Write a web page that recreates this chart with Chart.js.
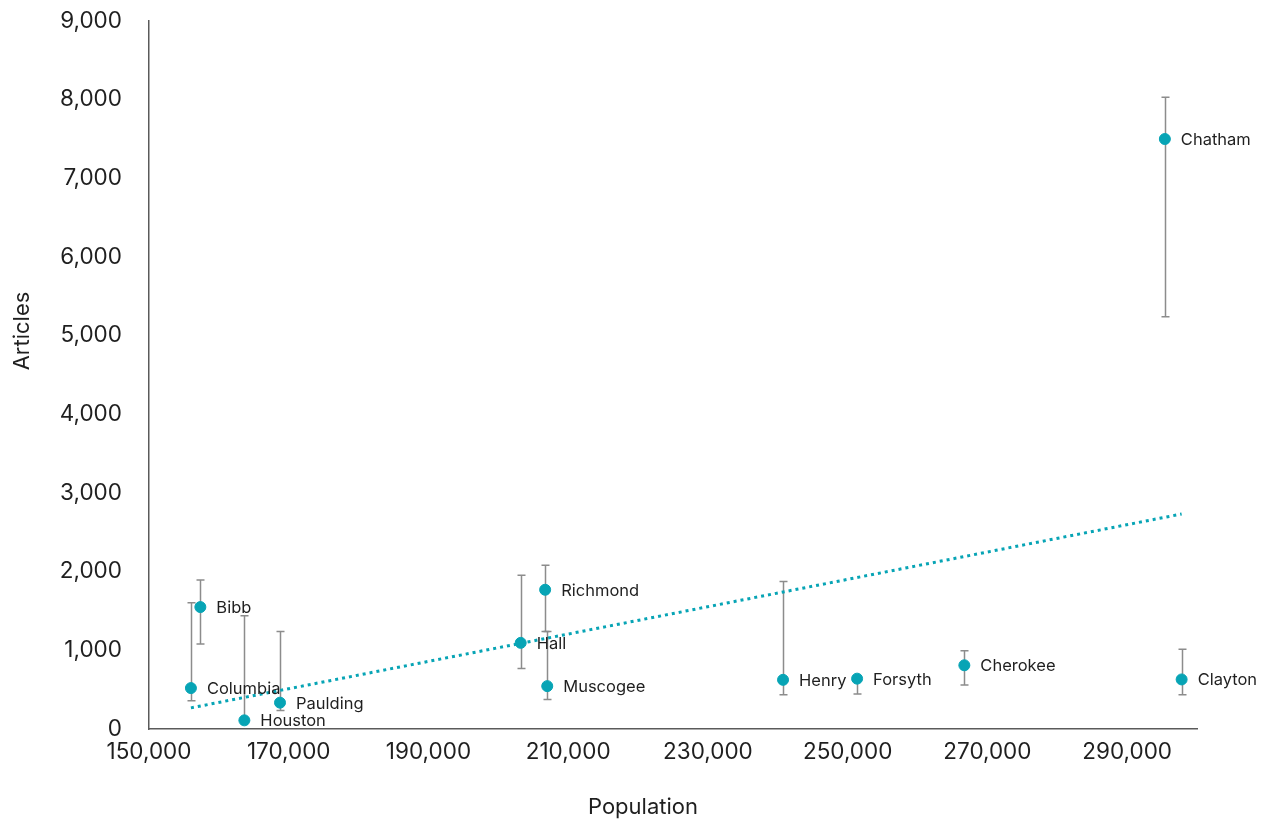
<!DOCTYPE html>
<html>
<head>
<meta charset="utf-8">
<script src="https://cdn.jsdelivr.net/npm/chart.js@4/dist/chart.umd.min.js"></script>
<style>
  html, body { margin: 0; padding: 0; background: #ffffff; }
  #wrap { width: 1264px; height: 820px; position: relative; }
</style>
</head>
<body>
<div id="wrap"><canvas id="c"></canvas></div>
<script>
// Georgia counties: population vs. number of articles, with error ranges
const counties   = ['Columbia', 'Bibb', 'Houston', 'Paulding', 'Hall', 'Richmond', 'Muscogee', 'Henry', 'Forsyth', 'Cherokee', 'Chatham', 'Clayton'];
const population = [156000, 157350, 163650, 168750, 203200, 206700, 207000, 240750, 251350, 266700, 295400, 297800];
const articles   = [520, 1550, 110, 335, 1095, 1770, 545, 625, 640, 810, 7500, 630];
const articlesHigh = [1605, 1895, 1440, 1240, 1955, 2080, 1240, 1875, 650, 995, 8030, 1015];
const articlesLow  = [360, 1080, 100, 235, 770, 1240, 375, 435, 445, 560, 5240, 435];

const xTicks = [150000, 170000, 190000, 210000, 230000, 250000, 270000, 290000];
const yTicks = [0, 1000, 2000, 3000, 4000, 5000, 6000, 7000, 8000, 9000];

const TEAL = '#07A4B5';
const FONT = 'Inter, "Open Sans", sans-serif';

// least-squares linear trend through the points
function linearFit(xs, ys) {
  const n = xs.length;
  const mx = xs.reduce((a, b) => a + b, 0) / n;
  const my = ys.reduce((a, b) => a + b, 0) / n;
  let sxy = 0, sxx = 0;
  for (let i = 0; i < n; i++) {
    sxy += (xs[i] - mx) * (ys[i] - my);
    sxx += (xs[i] - mx) * (xs[i] - mx);
  }
  const slope = sxy / sxx;
  return { slope, intercept: my - slope * mx };
}
const fit = linearFit(population, articles);
const xMin = Math.min(...population), xMax = Math.max(...population);
const trendData = [
  { x: xMin, y: fit.intercept + fit.slope * xMin },
  { x: xMax, y: fit.intercept + fit.slope * xMax }
];

const pointData = population.map((p, i) => ({ x: p, y: articles[i] }));

const fmt = v => Number(v).toLocaleString('en-US');

// vertical error bars with end caps
const errorBars = {
  id: 'errorBars',
  beforeDatasetsDraw(chart) {
    const { ctx, chartArea, scales: { x, y } } = chart;
    ctx.save();
    ctx.beginPath();
    ctx.rect(chartArea.left, chartArea.top, chartArea.width, chartArea.height);
    ctx.clip();
    ctx.strokeStyle = '#8c8c8c';
    ctx.lineWidth = 1.5;
    const cap = 4;
    population.forEach((p, i) => {
      const px = Math.round(x.getPixelForValue(p)) + 0.5;
      const yh = y.getPixelForValue(articlesHigh[i]);
      const yl = y.getPixelForValue(articlesLow[i]);
      ctx.beginPath();
      ctx.moveTo(px, yh); ctx.lineTo(px, yl);
      ctx.moveTo(px - cap, yh); ctx.lineTo(px + cap, yh);
      ctx.moveTo(px - cap, yl); ctx.lineTo(px + cap, yl);
      ctx.stroke();
    });
    ctx.restore();
  }
};

// county names beside each point
const pointLabels = {
  id: 'pointLabels',
  afterDatasetsDraw(chart) {
    const { ctx, scales: { x, y } } = chart;
    ctx.save();
    ctx.font = '16.5px ' + FONT;
    ctx.fillStyle = '#1f1f1f';
    ctx.textAlign = 'left';
    ctx.textBaseline = 'middle';
    counties.forEach((name, i) => {
      ctx.fillText(name, x.getPixelForValue(population[i]) + 16, y.getPixelForValue(articles[i]) + 1);
    });
    ctx.restore();
  }
};

// axis titles
const axisTitles = {
  id: 'axisTitles',
  afterDraw(chart) {
    const { ctx } = chart;
    ctx.save();
    ctx.font = '22px ' + FONT;
    ctx.fillStyle = '#1f1f1f';
    ctx.textAlign = 'center';
    ctx.textBaseline = 'middle';
    ctx.fillText('Population', 643, 807);
    ctx.translate(22, 331);
    ctx.rotate(-Math.PI / 2);
    ctx.fillText('Articles', 0, 0);
    ctx.restore();
  }
};

new Chart(document.getElementById('c'), {
  type: 'scatter',
  data: {
    datasets: [
      {
        label: 'Articles',
        data: pointData,
        backgroundColor: TEAL,
        borderColor: TEAL,
        pointRadius: 5.5,
        pointHoverRadius: 5.5,
        order: 0
      },
      {
        type: 'line',
        label: 'Trend',
        data: trendData,
        borderColor: TEAL,
        borderWidth: 3,
        borderDash: [3, 4],
        borderCapStyle: 'butt',
        pointRadius: 0,
        fill: false,
        order: 1
      }
    ]
  },
  options: {
    responsive: true,
    maintainAspectRatio: false,
    animation: false,
    layout: { padding: { top: 21, right: 67, left: 0, bottom: 0 } },
    plugins: {
      legend: { display: false },
      tooltip: { enabled: false }
    },
    scales: {
      x: {
        type: 'linear',
        min: 150000,
        max: 300000,
        afterBuildTicks: s => { s.ticks = xTicks.map(v => ({ value: v })); },
        afterFit: s => { s.height = 91; },
        grid: { display: false, drawTicks: false },
        border: { display: true, color: '#5a5a5a', width: 1.5 },
        ticks: {
          padding: 10,
          color: '#1f1f1f',
          font: { family: FONT, size: 22.5 },
          maxRotation: 0,
          callback: v => fmt(v)
        }
      },
      y: {
        type: 'linear',
        min: 0,
        max: 9000,
        afterBuildTicks: s => { s.ticks = yTicks.map(v => ({ value: v })); },
        afterFit: s => { s.width = 149; s.paddingTop = 0; s.paddingBottom = 0; },
        grid: { display: false, drawTicks: false },
        border: { display: true, color: '#5a5a5a', width: 1.5 },
        ticks: {
          padding: 27,
          color: '#1f1f1f',
          font: { family: FONT, size: 22.5 },
          callback: v => fmt(v)
        }
      }
    }
  },
  plugins: [errorBars, pointLabels, axisTitles]
});
</script>
</body>
</html>
